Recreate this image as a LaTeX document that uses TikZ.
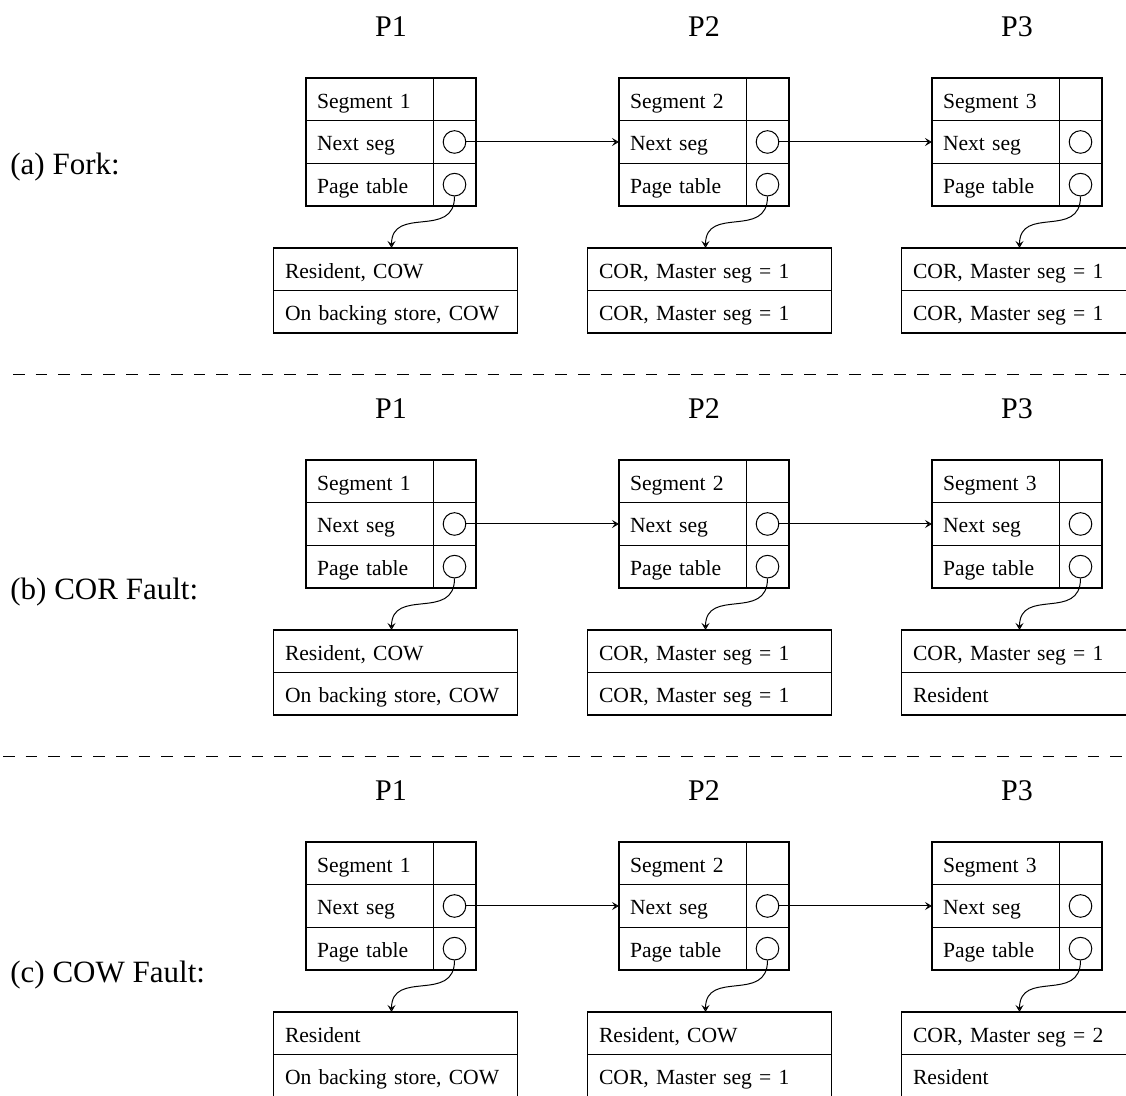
\documentclass[tikz,border=0pt]{standalone}
\usepackage{fontspec}
\setmainfont{Liberation Serif}
\usetikzlibrary{arrows.meta}
\begin{document}
\begin{tikzpicture}[x=0.5pt,y=-0.5pt]
	\tikzstyle{every node}+=[inner sep=0pt]
	\tikzstyle{proc}=[font=\fontsize{15}{18}\selectfont]
	\tikzstyle{case}=[anchor=west, font=\fontsize{15.5}{18}\selectfont]
	\tikzstyle{field}=[draw, line width=0.5pt, outer sep=0pt, anchor=north west, minimum height=21.33pt, text width=52.5pt, inner xsep=5.5pt, align=left, text height=9pt, text depth=0pt, font=\fontsize{10.8}{13}\selectfont]
	\tikzstyle{slot}=[draw, line width=0.5pt, outer sep=0pt, anchor=north west, minimum width=21.5pt, minimum height=21.33pt]
	\tikzstyle{pte}=[field, text width=110.5pt, inner xsep=5.75pt, minimum height=21.25pt]
	\tikzstyle{ptr}=[draw, circle, line width=0.5pt, minimum size=11.3pt]
	\tikzstyle{segframe}=[line width=0.9pt]
	\tikzstyle{link}=[line width=0.5pt, -{Stealth[open,length=3.5pt,width=4pt,inset=1.4pt]}]
	\tikzstyle{sepline}=[line width=0.5pt, dash pattern=on 5.8pt off 5.5pt]
	\useasboundingbox (0,0) rectangle (1126,1096);
	% segment tables, same in every case
	\foreach \s in {0,1,2} {
		\foreach \c in {0,1,2} {
			\pgfmathsetmacro\X{306+313*\c}
			\pgfmathsetmacro\Y{78+382*\s}
			\pgfmathtruncatemacro\pnum{\c+1}
			\node[proc] (p\s\c) at (\X+85,\Y-51) {P\pnum};
			\node[field] (seg\s\c) at (\X,\Y) {Segment \pnum};
			\node[slot] (segp\s\c) at (seg\s\c.north east) {};
			\node[field] (nxt\s\c) at (seg\s\c.south west) {Next seg};
			\node[slot] (nxtp\s\c) at (nxt\s\c.north east) {};
			\node[field] (pt\s\c) at (nxt\s\c.south west) {Page table};
			\node[slot] (ptp\s\c) at (pt\s\c.north east) {};
			\draw[segframe] (seg\s\c.north west) rectangle (ptp\s\c.south east);
			\node[ptr] (nc\s\c) at (nxtp\s\c.center) {};
			\node[ptr] (pc\s\c) at (ptp\s\c.center) {};
		}
	}
	% page tables
	\foreach \s/\c/\ta/\tb in {
		0/0/{Resident, COW}/{On backing store, COW},
		0/1/{COR, Master seg = 1}/{COR, Master seg = 1},
		0/2/{COR, Master seg = 1}/{COR, Master seg = 1},
		1/0/{Resident, COW}/{On backing store, COW},
		1/1/{COR, Master seg = 1}/{COR, Master seg = 1},
		1/2/{COR, Master seg = 1}/{Resident},
		2/0/{Resident}/{On backing store, COW},
		2/1/{Resident, COW}/{COR, Master seg = 1},
		2/2/{COR, Master seg = 2}/{Resident}} {
		\pgfmathsetmacro\X{273.5+314*\c}
		\pgfmathsetmacro\Y{248+382*\s}
		\node[pte] (pa\s\c) at (\X,\Y) {\ta};
		\node[pte] (pb\s\c) at (pa\s\c.south west) {\tb};
		\draw[segframe] (pa\s\c.north west) rectangle (pb\s\c.south east);
		\draw[link] (pc\s\c.south) .. controls +(0,43) and +(0,-43) .. ([xshift=-2pt]pa\s\c.north);
	}
	% next segment chain
	\foreach \s in {0,1,2}
		\foreach \c/\d in {0/1,1/2}
			\draw[link] (nc\s\c.east) -- (nxt\s\d.west);
	\node[case] (ca) at (10,167.5) {(a) Fork:};
	\node[case] (cb) at (10,592.5) {(b) COR Fault:};
	\node[case] (cc) at (10,975) {(c) COW Fault:};
	\draw[sepline] (13,375) -- (1126,375);
	\draw[sepline] (3,757) -- (1126,757);
\end{tikzpicture}
\end{document}
